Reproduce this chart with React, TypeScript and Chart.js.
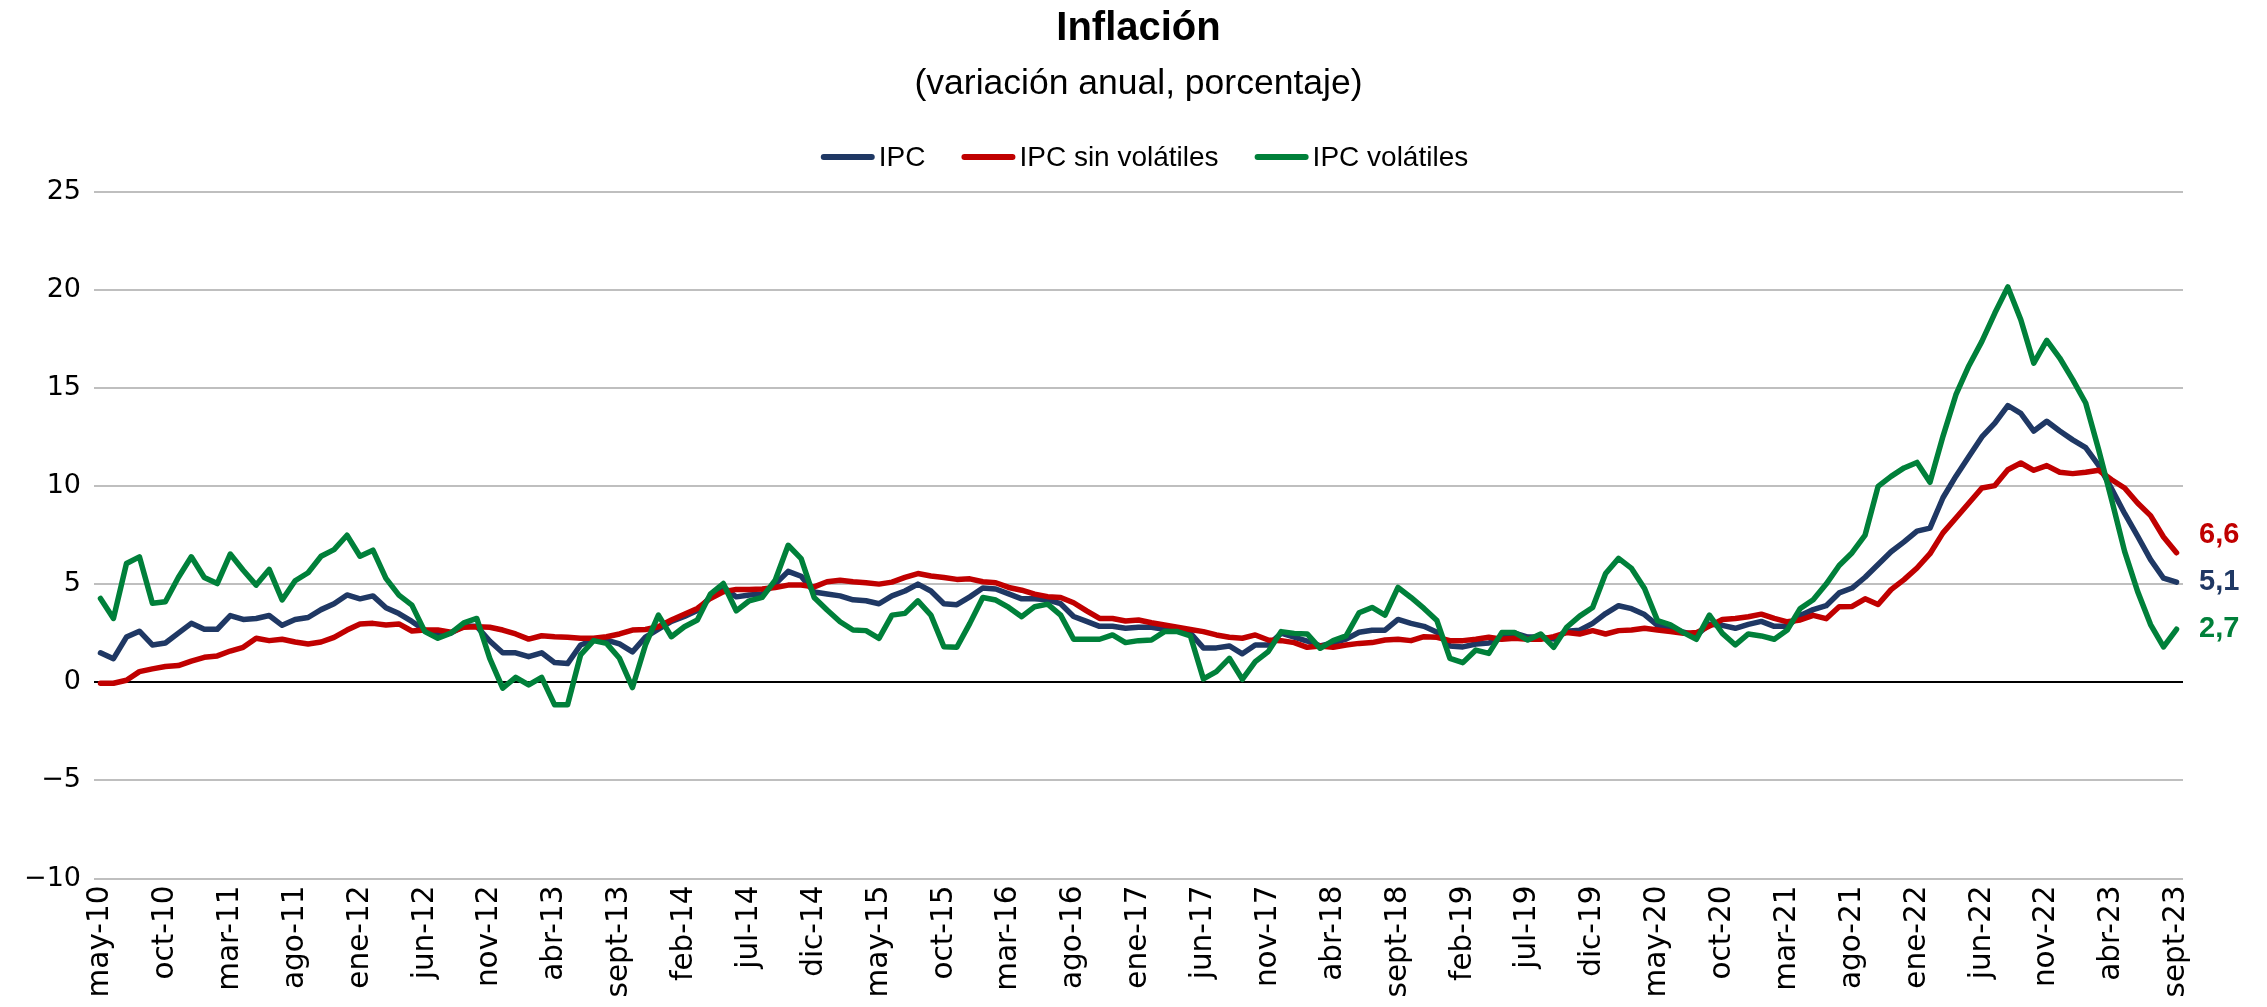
import { useEffect, useRef } from 'react';
import { Chart, registerables } from 'chart.js';

Chart.register(...registerables);

// ---- Categories (monthly, may-10 .. sept-23) ----
const MONTH_NAMES = ['ene', 'feb', 'mar', 'abr', 'may', 'jun', 'jul', 'ago', 'sept', 'oct', 'nov', 'dic'];
const START_YEAR = 2010;
const START_MONTH_INDEX = 4; // may
const N_MONTHS = 161;
const LABEL_EVERY = 5;
const CATEGORIES: string[] = Array.from({ length: N_MONTHS }, (_, i) => {
  const k = START_MONTH_INDEX + i;
  const m = k % 12;
  const y = START_YEAR + Math.floor(k / 12);
  return `${MONTH_NAMES[m]}-${String(y).slice(2)}`;
});

// ---- Y axis ----
const Y_MIN = -10;
const Y_MAX = 25;
const Y_STEP = 5;

// ---- Series (annual % change) ----
const IPC: number[] = [
  1.5, 1.2, 2.3, 2.6, 1.9, 2.0, 2.5, 3.0, 2.7, 2.7,
  3.4, 3.2, 3.25, 3.4, 2.9, 3.2, 3.3, 3.7, 4.0, 4.45,
  4.25, 4.4, 3.8, 3.5, 3.1, 2.65, 2.5, 2.5, 2.85, 2.85,
  2.1, 1.5, 1.5, 1.3, 1.5, 1.0, 0.95, 1.9, 2.15, 2.15,
  1.95, 1.55, 2.3, 2.7, 3.1, 3.35, 3.65, 4.35, 4.85, 4.35,
  4.45, 4.5, 5.0, 5.65, 5.4, 4.6, 4.5, 4.4, 4.2, 4.15,
  4.0, 4.4, 4.65, 5.0, 4.65, 4.0, 3.95, 4.35, 4.8, 4.75,
  4.5, 4.25, 4.25, 4.2, 4.0, 3.35, 3.1, 2.85, 2.85, 2.75,
  2.8, 2.8, 2.7, 2.65, 2.5, 1.75, 1.75, 1.85, 1.45, 1.9,
  1.9, 2.5, 2.3, 2.1, 1.85, 2.0, 2.2, 2.55, 2.65, 2.65,
  3.2, 3.0, 2.85, 2.55, 1.85, 1.8, 1.95, 2.0, 2.25, 2.5,
  2.3, 2.3, 2.2, 2.6, 2.65, 3.0, 3.5, 3.9, 3.75, 3.45,
  2.9, 2.8, 2.55, 2.4, 2.95, 2.9, 2.75, 2.95, 3.1, 2.85,
  2.85, 3.4, 3.7, 3.9, 4.55, 4.8, 5.35, 6.0, 6.65, 7.15,
  7.7, 7.85, 9.4, 10.5, 11.5, 12.5, 13.2, 14.1, 13.7, 12.8,
  13.3, 12.8, 12.35, 11.95, 11.05, 9.85, 8.6, 7.45, 6.25, 5.3,
  5.1,
];

const IPC_SIN_VOLATILES: number[] = [
  -0.05, -0.05, 0.1, 0.54, 0.68, 0.8, 0.85, 1.08, 1.27, 1.34,
  1.59, 1.78, 2.24, 2.12, 2.19, 2.05, 1.95, 2.05, 2.29, 2.66,
  2.97, 3.0, 2.92, 2.97, 2.61, 2.66, 2.66, 2.55, 2.8, 2.83,
  2.8, 2.66, 2.46, 2.2, 2.37, 2.32, 2.29, 2.24, 2.24, 2.32,
  2.46, 2.66, 2.69, 2.83, 3.17, 3.47, 3.76, 4.27, 4.61, 4.73,
  4.73, 4.75, 4.83, 4.95, 4.95, 4.86, 5.12, 5.2, 5.12, 5.07,
  5.0, 5.1, 5.34, 5.54, 5.41, 5.34, 5.24, 5.27, 5.12, 5.07,
  4.83, 4.69, 4.49, 4.36, 4.32, 4.05, 3.64, 3.25, 3.25, 3.12,
  3.17, 3.03, 2.92, 2.8, 2.69, 2.58, 2.41, 2.29, 2.24, 2.41,
  2.15, 2.12, 2.02, 1.78, 1.85, 1.78, 1.9, 1.98, 2.02, 2.15,
  2.19, 2.12, 2.32, 2.29, 2.12, 2.12, 2.19, 2.29, 2.19, 2.24,
  2.19, 2.19, 2.32, 2.53, 2.46, 2.63, 2.46, 2.63, 2.66, 2.75,
  2.66, 2.58, 2.49, 2.53, 2.86, 3.2, 3.25, 3.34, 3.47, 3.25,
  3.08, 3.17, 3.41, 3.24, 3.85, 3.86, 4.25, 3.96, 4.72, 5.23,
  5.82, 6.55, 7.61, 8.37, 9.13, 9.9, 10.02, 10.83, 11.17, 10.8,
  11.04, 10.7, 10.63, 10.7, 10.8, 10.32, 9.9, 9.13, 8.49, 7.4,
  6.6,
];

const IPC_VOLATILES: number[] = [
  4.27, 3.25, 6.05, 6.39, 4.02, 4.1, 5.34, 6.39, 5.34, 5.03,
  6.53, 5.71, 4.95, 5.75, 4.19, 5.17, 5.58, 6.42, 6.76, 7.49,
  6.42, 6.73, 5.29, 4.44, 3.93, 2.58, 2.24, 2.5, 3.03, 3.25,
  1.22, -0.3, 0.25, -0.14, 0.25, -1.15, -1.15, 1.39, 2.12, 1.98,
  1.22, -0.27, 1.9, 3.42, 2.32, 2.83, 3.17, 4.49, 5.03, 3.64,
  4.15, 4.32, 5.2, 6.98, 6.3, 4.32, 3.68, 3.08, 2.66, 2.63,
  2.24, 3.42, 3.51, 4.15, 3.42, 1.81, 1.78, 3.0, 4.32, 4.19,
  3.81, 3.34, 3.85, 3.98, 3.42, 2.19, 2.19, 2.19, 2.41, 2.02,
  2.12, 2.15, 2.58, 2.58, 2.36, 0.17, 0.54, 1.22, 0.15, 1.05,
  1.56, 2.58, 2.49, 2.46, 1.73, 2.12, 2.36, 3.54, 3.81, 3.42,
  4.83, 4.32, 3.76, 3.14, 1.22, 1.0, 1.64, 1.47, 2.53, 2.53,
  2.15, 2.46, 1.78, 2.8, 3.37, 3.81, 5.54, 6.31, 5.8, 4.78,
  3.14, 2.92, 2.53, 2.19, 3.42, 2.49, 1.9, 2.46, 2.36, 2.19,
  2.66, 3.76, 4.2, 5.0, 5.95, 6.6, 7.5, 9.98, 10.49, 10.92,
  11.2, 10.19, 12.53, 14.65, 16.13, 17.37, 18.81, 20.14, 18.47, 16.26,
  17.42, 16.52, 15.42, 14.23, 11.85, 9.3, 6.67, 4.63, 2.94, 1.8,
  2.7,
];

const SERIES_LABELS = ['IPC', 'IPC sin volátiles', 'IPC volátiles'];

// ---- Styles ----
const BLUE = '#1F3864';
const RED = '#C00000';
const GREEN = '#00803A';
const TEXT_FONT = "'Liberation Sans', Arial, sans-serif";
const AXIS_FONT = "'DejaVu Sans', Verdana, sans-serif";

const legendPlugin = {
  id: 'customLegend',
  afterDraw(chart: any) {
    const { ctx, chartArea } = chart;
    const swatch = 54;
    const gap = 4;
    const itemGap = 36;
    const y = chartArea.top - 34.5;
    ctx.save();
    ctx.font = `28px ${TEXT_FONT}`;
    const items = chart.data.datasets.map((d: any) => ({ text: d.label, color: d.borderColor }));
    const widths = items.map((it: any) => swatch + gap + ctx.measureText(it.text).width);
    const total = widths.reduce((a: number, b: number) => a + b, 0) + itemGap * (items.length - 1);
    let x = (chartArea.left + chartArea.right) / 2 - total / 2 + 6;
    items.forEach((it: any, i: number) => {
      ctx.beginPath();
      ctx.lineWidth = 6;
      ctx.lineCap = 'round';
      ctx.strokeStyle = it.color;
      ctx.moveTo(x + 3, y);
      ctx.lineTo(x + swatch - 3, y);
      ctx.stroke();
      ctx.fillStyle = '#000';
      ctx.textAlign = 'left';
      ctx.textBaseline = 'middle';
      ctx.fillText(it.text, x + swatch + gap, y + 1);
      x += widths[i] + itemGap;
    });
    ctx.restore();
  },
};

const endLabelPlugin = {
  id: 'endLabels',
  afterDatasetsDraw(chart: any) {
    const { ctx, chartArea } = chart;
    const yScale = chart.scales.y;
    const minGap = 47;
    const labels = chart.data.datasets.map((d: any) => {
      const v = d.data[d.data.length - 1] as number;
      return { y: yScale.getPixelForValue(v), color: d.borderColor, text: v.toFixed(1).replace('.', ',') };
    });
    labels.sort((a: any, b: any) => b.y - a.y);
    for (let i = 1; i < labels.length; i++) {
      if (labels[i - 1].y - labels[i].y < minGap) labels[i].y = labels[i - 1].y - minGap;
    }
    ctx.save();
    ctx.font = `bold 29px ${TEXT_FONT}`;
    ctx.textAlign = 'left';
    ctx.textBaseline = 'middle';
    labels.forEach((l: any) => {
      ctx.fillStyle = l.color;
      ctx.fillText(l.text, chartArea.right + 16, l.y);
    });
    ctx.restore();
  },
};

export default function App() {
  const ref = useRef<HTMLCanvasElement | null>(null);

  useEffect(() => {
    if (!ref.current) return;
    const chart = new Chart(ref.current, {
      type: 'line',
      data: {
        labels: CATEGORIES,
        datasets: [
          { label: SERIES_LABELS[0], data: IPC, borderColor: BLUE, backgroundColor: BLUE, order: 2 },
          { label: SERIES_LABELS[1], data: IPC_SIN_VOLATILES, borderColor: RED, backgroundColor: RED, order: 1 },
          { label: SERIES_LABELS[2], data: IPC_VOLATILES, borderColor: GREEN, backgroundColor: GREEN, order: 0 },
        ],
      },
      options: {
        animation: false,
        responsive: true,
        maintainAspectRatio: false,
        events: [],
        layout: { padding: { left: 0, right: 84, top: 0, bottom: 0 } },
        elements: {
          line: { borderWidth: 5.5, tension: 0, borderJoinStyle: 'round', borderCapStyle: 'round', fill: false },
          point: { radius: 0, hoverRadius: 0 },
        },
        plugins: {
          legend: { display: false },
          tooltip: { enabled: false },
          title: {
            display: true,
            fullSize: false,
            text: 'Inflación',
            color: '#000',
            font: { family: TEXT_FONT, size: 40, weight: 'bold', lineHeight: 1.2 },
            padding: { top: 5, bottom: 0 },
          },
          subtitle: {
            display: true,
            fullSize: false,
            text: '(variación anual, porcentaje)',
            color: '#000',
            font: { family: TEXT_FONT, size: 35.5, weight: 'normal', lineHeight: 1.2 },
            padding: { top: 10, bottom: 86 },
          },
        },
        scales: {
          x: {
            type: 'category',
            offset: true,
            grid: { display: false, drawTicks: false },
            border: { display: false },
            ticks: {
              autoSkip: false,
              minRotation: 90,
              maxRotation: 90,
              padding: 7,
              color: '#000',
              font: { family: AXIS_FONT, size: 29.5 },
              callback: (_v: any, i: number) => (i % LABEL_EVERY === 0 ? CATEGORIES[i] : ''),
            },
            afterFit: (s: any) => {
              s.height = 128.5;
            },
          },
          y: {
            min: Y_MIN,
            max: Y_MAX,
            ticks: {
              stepSize: Y_STEP,
              padding: 13,
              color: '#000',
              font: { family: AXIS_FONT, size: 27 },
              callback: (v: any) => (Number(v) < 0 ? `\u2212${Math.abs(Number(v))}` : String(v)),
            },
            grid: {
              color: (c: any) => (c.tick && c.tick.value === 0 ? '#000000' : '#BFBFBF'),
              lineWidth: 2,
              drawTicks: false,
            },
            border: { display: false },
            afterFit: (s: any) => {
              s.width = 94;
            },
          },
        },
      },
      plugins: [legendPlugin, endLabelPlugin],
    } as any);
    return () => chart.destroy();
  }, []);

  return (
    <div
      style={{
        position: 'fixed',
        left: 0,
        top: 0,
        width: '2267px',
        height: '1007px',
        background: '#fff',
      }}
    >
      <canvas ref={ref} style={{ display: 'block' }} />
    </div>
  );
}
